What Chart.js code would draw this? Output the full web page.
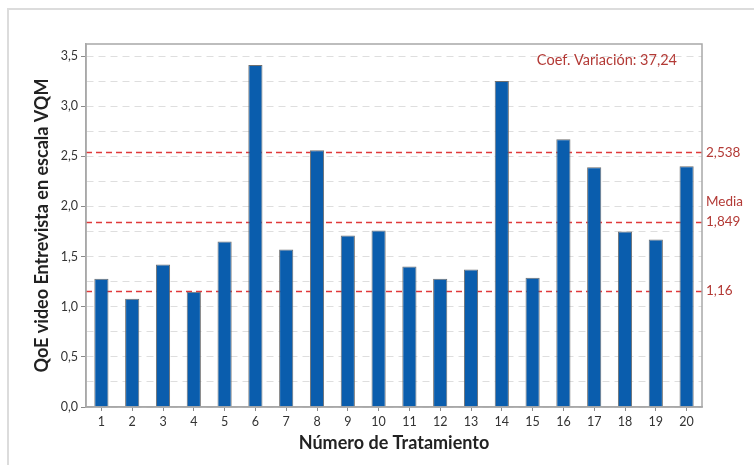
<!DOCTYPE html>
<html>
<head>
<meta charset="utf-8">
<script src="https://cdn.jsdelivr.net/npm/chart.js@4/dist/chart.umd.min.js"></script>
<style>
  body { margin: 0; background: #fff; }
  #wrap { position: relative; width: 754px; height: 465px; overflow: hidden; }
  #frame { position: absolute; left: 7px; top: 8px; width: 800px; height: 500px;
           border-top: 2px solid #dcdcdc; border-left: 2px solid #dcdcdc; }
  #chart { position: absolute; left: 0; top: 0; }
</style>
</head>
<body>
<div id="wrap">
  <div id="frame"></div>
  <canvas id="chart" width="754" height="465"></canvas>
</div>
<script>
// data
const treatments = ['1', '2', '3', '4', '5', '6', '7', '8', '9', '10',
                    '11', '12', '13', '14', '15', '16', '17', '18', '19', '20'];
const qoeValues = [1.28, 1.08, 1.42, 1.15, 1.65, 3.41, 1.57, 2.56, 1.71, 1.76,
                   1.40, 1.28, 1.37, 3.25, 1.29, 2.67, 2.39, 1.75, 1.67, 2.40];
const refValues = [2.538, 1.849, 1.16];
const refLabels = ['2,538', '1,849', '1,16'];
const meanLabel = 'Media';
const coefText = 'Coef. Variación: 37,24';

const FONT = 'Lato, "Open Sans", sans-serif';
const RED_LINE = '#e0393b';
const RED_TEXT = '#b33a36';

function isMajor(v) {
    const q = v / 0.5;
    return Math.abs(q - Math.round(q)) < 1e-6;
}

// reference lines (behind bars) and their labels, plus the plot box
const refLinesPlugin = {
    id: 'refLines',
    beforeDatasetsDraw(chart) {
        const { ctx, chartArea, scales } = chart;
        ctx.save();
        ctx.strokeStyle = RED_LINE;
        ctx.lineWidth = 1.5;
        ctx.setLineDash([6, 4]);
        refValues.forEach(v => {
            const y = Math.round(scales.y.getPixelForValue(v)) + 0.5;
            ctx.beginPath();
            ctx.moveTo(chartArea.left, y);
            ctx.lineTo(chartArea.right + 2, y);
            ctx.stroke();
        });
        ctx.restore();
    },
    afterDraw(chart) {
        const { ctx, chartArea, scales } = chart;
        ctx.save();
        ctx.strokeStyle = '#a8a8a8';
        ctx.lineWidth = 1.5;
        ctx.strokeRect(chartArea.left, chartArea.top, chartArea.right - chartArea.left, chartArea.bottom - chartArea.top);

        ctx.fillStyle = RED_TEXT;
        ctx.font = '13.5px ' + FONT;
        ctx.textBaseline = 'middle';
        ctx.textAlign = 'left';
        refValues.forEach((v, i) => {
            const y = scales.y.getPixelForValue(v);
            ctx.fillText(refLabels[i], chartArea.right + 4, y);
            if (i === 1) ctx.fillText(meanLabel, chartArea.right + 4, y - 20);
        });

        ctx.font = '14.5px ' + FONT;
        ctx.textAlign = 'right';
        ctx.fillText(coefText, chartArea.right - 25, chartArea.top + 16);
        ctx.restore();
    }
};

const ctx = document.getElementById('chart').getContext('2d');

new Chart(ctx, {
    type: 'bar',
    data: {
        labels: treatments,
        datasets: [{
            data: qoeValues,
            backgroundColor: '#0a5dad',
            borderColor: '#6f6f6f',
            borderWidth: 1,
            barPercentage: 0.46,
            categoryPercentage: 1
        }]
    },
    options: {
        responsive: false,
        animation: false,
        devicePixelRatio: 1,
        layout: { padding: { top: 44, right: 52, left: 0, bottom: 0 } },
        plugins: {
            legend: { display: false },
            tooltip: { enabled: false }
        },
        scales: {
            x: {
                afterFit: s => { s.height = 58; },
                grid: {
                    display: true,
                    drawOnChartArea: false,
                    offset: false,
                    tickLength: 4,
                    tickColor: '#8a8a8a'
                },
                border: { display: true, color: '#a8a8a8', width: 1.5 },
                ticks: {
                    color: '#333',
                    font: { family: FONT, size: 12.5 },
                    padding: 3,
                    maxRotation: 0,
                    autoSkip: false
                },
                title: {
                    display: true,
                    text: 'Número de Tratamiento',
                    color: '#222',
                    font: { family: FONT, size: 18, weight: 'bold' },
                    padding: { top: 0, bottom: 11 }
                }
            },
            y: {
                min: 0,
                max: 3.62,
                afterFit: s => { s.width = 86; },
                grid: {
                    color: '#dedede',
                    lineWidth: 1,
                    borderDash: [7, 5],
                    tickLength: 5,
                    tickColor: c => (c.tick && isMajor(c.tick.value)) ? '#8a8a8a' : 'rgba(0,0,0,0)'
                },
                border: { display: true, color: '#a8a8a8', width: 1.5, dash: [7, 5] },
                ticks: {
                    stepSize: 0.25,
                    includeBounds: false,
                    autoSkip: false,
                    color: '#333',
                    font: { family: FONT, size: 12.5 },
                    padding: 3,
                    callback: v => isMajor(v) ? v.toFixed(1).replace('.', ',') : ''
                },
                title: {
                    display: true,
                    text: 'QoE video Entrevista en escala VQM',
                    color: '#222',
                    font: { family: FONT, size: 18, weight: 'bold' },
                    padding: { top: 31, bottom: 0 }
                }
            }
        }
    },
    plugins: [refLinesPlugin]
});
</script>
</body>
</html>
